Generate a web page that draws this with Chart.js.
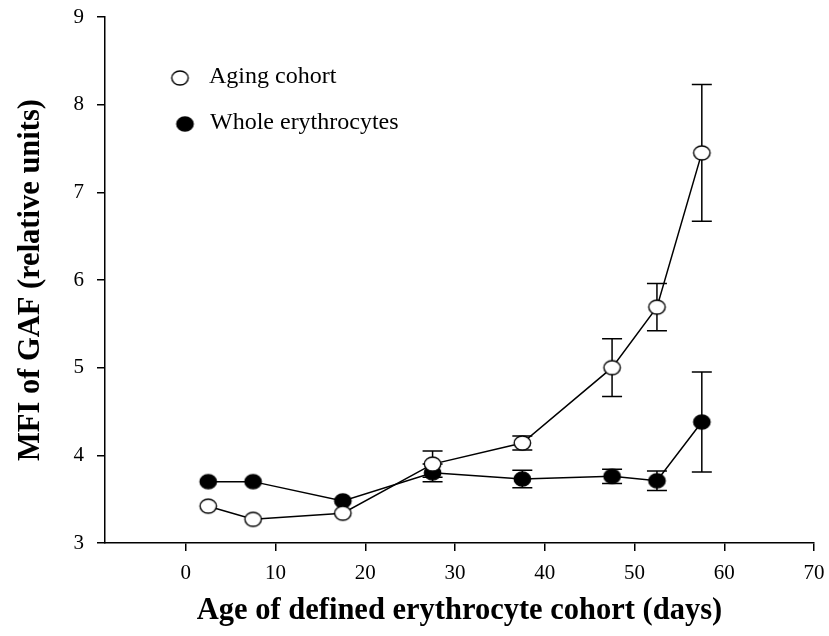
<!DOCTYPE html>
<html>
<head>
<meta charset="utf-8">
<script src="https://cdn.jsdelivr.net/npm/chart.js@4/dist/chart.umd.min.js"></script>
<style>
  html, body { margin: 0; padding: 0; background: #ffffff; }
  #c { display: block; }
</style>
</head>
<body>
<canvas id="c" width="829" height="636"></canvas>
<script>
// ---- data ----
const ages = [2.5, 7.5, 17.5, 27.5, 37.5, 47.5, 52.5, 57.5];
const agingCohort = [3.42, 3.27, 3.34, 3.90, 4.14, 5.00, 5.69, 7.45];
const agingCohortErr = [0, 0, 0, 0.15, 0.08, 0.33, 0.27, 0.78];
const wholeErythrocytes = [3.70, 3.70, 3.48, 3.80, 3.73, 3.76, 3.71, 4.38];
const wholeErythrocytesErr = [0, 0, 0, 0.10, 0.10, 0.08, 0.11, 0.57];
const xTickValues = [0, 10, 20, 30, 40, 50, 60, 70];
const yTickValues = [3, 4, 5, 6, 7, 8, 9];
const seriesLabels = ['Aging cohort', 'Whole erythrocytes'];
const xTitle = 'Age of defined erythrocyte cohort (days)';
const yTitle = 'MFI of GAF (relative units)';

// ---- marker images (slightly elliptical circles) ----
function makeMarker(filled) {
  const w = 21, h = 18;
  const cv = document.createElement('canvas');
  cv.width = w; cv.height = h;
  const g = cv.getContext('2d');
  g.beginPath();
  g.ellipse(w / 2, h / 2, 8.2, 7.0, 0, 0, Math.PI * 2);
  g.fillStyle = filled ? '#000000' : '#ffffff';
  g.fill();
  g.lineWidth = 1.4;
  g.strokeStyle = '#000000';
  g.stroke();
  return cv;
}
const openMarker = makeMarker(false);
const filledMarker = makeMarker(true);

function toPoints(xs, ys) { return xs.map((x, i) => ({ x: x, y: ys[i] })); }

const errorBars = {
  id: 'errorBars',
  beforeDatasetsDraw(chart) {
    const ctx = chart.ctx;
    const xs = chart.scales.x, ys = chart.scales.y;
    ctx.save();
    ctx.strokeStyle = '#000000';
    ctx.lineWidth = 1.5;
    chart.data.datasets.forEach(ds => {
      const errs = ds.errors || [];
      ds.data.forEach((p, i) => {
        const e = errs[i];
        if (!e) return;
        const px = xs.getPixelForValue(p.x);
        const top = ys.getPixelForValue(p.y + e);
        const bot = ys.getPixelForValue(p.y - e);
        const cap = 10;
        ctx.beginPath();
        ctx.moveTo(px, top); ctx.lineTo(px, bot);
        ctx.moveTo(px - cap, top); ctx.lineTo(px + cap, top);
        ctx.moveTo(px - cap, bot); ctx.lineTo(px + cap, bot);
        ctx.stroke();
      });
    });
    ctx.restore();
  }
};

const customLegend = {
  id: 'customLegend',
  afterDraw(chart) {
    const ctx = chart.ctx;
    ctx.save();
    ctx.font = '24px "Liberation Serif", "Times New Roman", serif';
    ctx.fillStyle = '#000000';
    ctx.textBaseline = 'middle';
    ctx.textAlign = 'left';
    const items = [
      { img: openMarker, mx: 180, tx: 209, y: 77 },
      { img: filledMarker, mx: 185, tx: 210, y: 123 }
    ];
    items.forEach((it, i) => {
      ctx.drawImage(it.img, it.mx - it.img.width / 2, it.y + 1 - it.img.height / 2);
      ctx.fillText(chart.data.datasets[i].label, it.tx, it.y);
    });
    ctx.restore();
  }
};

const tickFont = { family: '"Liberation Serif", "Times New Roman", serif', size: 21 };
const titleFont = { family: '"Liberation Serif", "Times New Roman", serif', size: 30.5, weight: 'bold' };

new Chart(document.getElementById('c'), {
  type: 'scatter',
  data: {
    datasets: [
      {
        label: seriesLabels[0],
        data: toPoints(ages, agingCohort),
        errors: agingCohortErr,
        showLine: true,
        borderColor: '#000000',
        borderWidth: 1.5,
        pointStyle: openMarker,
        pointRadius: 8,
        order: 1
      },
      {
        label: seriesLabels[1],
        data: toPoints(ages, wholeErythrocytes),
        errors: wholeErythrocytesErr,
        showLine: true,
        borderColor: '#000000',
        borderWidth: 1.5,
        pointStyle: filledMarker,
        pointRadius: 8,
        order: 2
      }
    ]
  },
  options: {
    responsive: false,
    animation: false,
    devicePixelRatio: 1,
    layout: { padding: { top: 17, right: 15, left: 0, bottom: 0 } },
    plugins: { legend: { display: false }, tooltip: { enabled: false } },
    scales: {
      x: {
        type: 'linear',
        min: -9,
        max: 70,
        afterBuildTicks: axis => { axis.ticks = xTickValues.map(v => ({ value: v })); },
        afterFit: axis => { axis.height = 93; axis.paddingLeft = 0; axis.paddingRight = 0; },
        ticks: { font: tickFont, color: '#000000', padding: 10, maxRotation: 0 },
        grid: { drawOnChartArea: false, drawTicks: true, tickLength: 8, color: '#000000', lineWidth: 1.5 },
        border: { display: true, color: '#000000', width: 1.5 },
        title: { display: true, text: xTitle, font: titleFont, color: '#000000', padding: { top: 0, bottom: 7 } }
      },
      y: {
        type: 'linear',
        min: 3,
        max: 9,
        afterBuildTicks: axis => { axis.ticks = yTickValues.map(v => ({ value: v })); },
        afterFit: axis => { axis.width = 105; axis.paddingTop = 0; axis.paddingBottom = 0; },
        ticks: { font: tickFont, color: '#000000', padding: 13 },
        grid: { drawOnChartArea: false, drawTicks: true, tickLength: 8, color: '#000000', lineWidth: 1.5 },
        border: { display: true, color: '#000000', width: 1.5 },
        title: { display: true, text: yTitle, font: titleFont, color: '#000000', padding: { top: 13, bottom: 0 } }
      }
    }
  },
  plugins: [errorBars, customLegend]
});
</script>
</body>
</html>
